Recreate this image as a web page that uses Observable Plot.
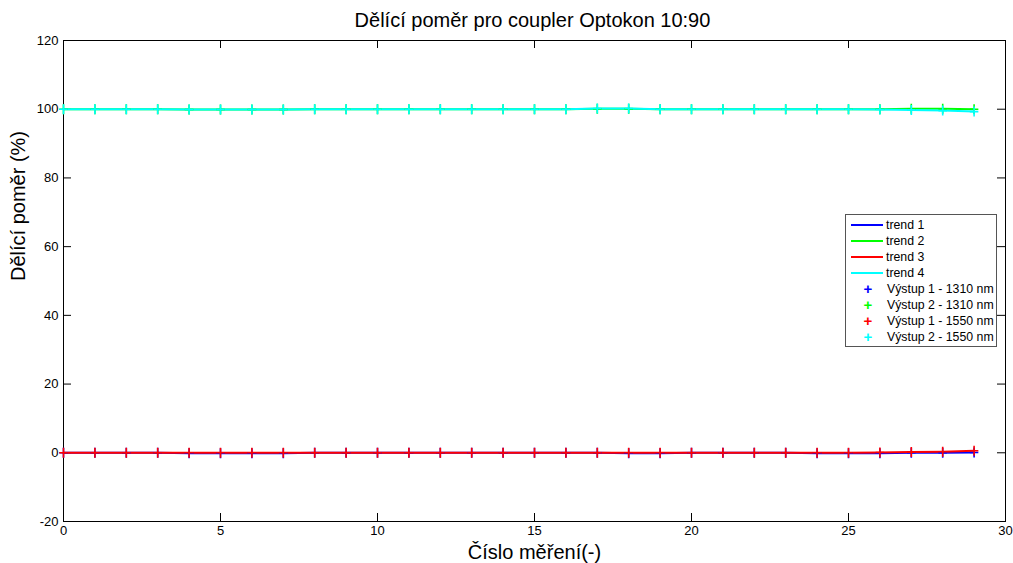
<!DOCTYPE html>
<html>
<head>
<meta charset="utf-8">
<script src="https://cdn.jsdelivr.net/npm/d3@7"></script>
<script src="https://cdn.jsdelivr.net/npm/@observablehq/plot@0.6"></script>
<style>
  html, body { margin: 0; padding: 0; background: #fff; }
  body { font-family: "Liberation Sans", Arial, sans-serif; width: 1013px; height: 563px; position: relative; overflow: hidden; }
  #title { height: 32px; line-height: 40px; text-align: center; font-size: 20px; color: #000; padding-left: 52px; box-sizing: border-box; white-space: nowrap; }
  #chart svg { overflow: visible; display: block; }
  #legend { position: absolute; left: 845px; top: 214px; width: 152px; height: 133px; border: 1px solid #555; background: #fff; box-sizing: border-box; font-size: 12.3px; }
  .row { position: absolute; left: 0; height: 16px; line-height: 16px; white-space: nowrap; }
  .sw { position: absolute; left: 5px; top: 7px; width: 32px; height: 2px; }
  .mk { position: absolute; left: 15px; top: 0; width: 14px; text-align: center; font-size: 15px; font-weight: bold; }
  .lb { position: absolute; left: 40px; top: 0; }
  .lb2 { position: absolute; left: 41px; top: 0; }
</style>
</head>
<body>
<div id="title"></div>
<div id="chart"></div>
<div id="legend"></div>
<script>
// ---- data ----
const measurement = d3.range(0, 30);
const out1_1310 = [0.0,0.0,0.0,0.0,-0.1,-0.1,-0.1,-0.1,0.0,0.0,0.0,0.0,0.0,0.0,0.0,0.0,0.0,0.0,-0.1,-0.1,0.0,0.0,0.0,0.0,-0.1,-0.1,-0.1,0.0,0.0,0.1];
const out2_1310 = [100.0,100.0,100.0,100.0,99.9,99.9,99.9,99.9,100.0,100.0,100.0,100.0,100.0,100.0,100.0,100.0,100.0,100.1,100.1,100.0,100.0,100.0,100.0,100.0,100.0,100.0,100.0,100.1,100.1,100.0];
const out1_1550 = [0.0,0.0,0.0,0.0,0.0,0.0,0.0,0.0,0.0,0.0,0.0,0.0,0.0,0.0,0.0,0.0,0.0,0.0,0.0,0.0,0.0,0.0,0.0,0.0,0.0,0.0,0.1,0.2,0.3,0.6];
const out2_1550 = [100.0,100.0,100.0,100.0,99.9,99.9,99.9,99.9,100.0,100.0,100.0,100.0,100.0,100.0,100.0,100.0,100.0,100.2,100.2,100.0,100.0,100.0,100.0,100.0,100.0,100.0,99.9,99.8,99.6,99.3];
const seriesNames = ["Výstup 1 - 1310 nm", "Výstup 2 - 1310 nm", "Výstup 1 - 1550 nm", "Výstup 2 - 1550 nm"];
const trendNames = ["trend 1", "trend 2", "trend 3", "trend 4"];
const seriesColors = ["#0000ff", "#00ff00", "#ff0000", "#00ffff"];
const xTicks = [0, 5, 10, 15, 20, 25, 30];
const yTicks = [-20, 0, 20, 40, 60, 80, 100, 120];
const titleText = "Dělící poměr pro coupler Optokon 10:90";
const xLabel = "Číslo měření(-)";
const yLabel = "Dělící poměr (%)";

const seriesValues = [out1_1310, out2_1310, out1_1550, out2_1550];
const rows = seriesValues.map((vals, s) => vals.map((v, i) => ({x: measurement[i], y: v, s})));

const W = 1013, H = 531, mL = 63, mR = 8, mT = 8, mB = 42;
const frameH = H - mT - mB, frameW = W - mL - mR;
const tick = 8;

const thinPlus = {
  draw(context, size) {
    const r = Math.sqrt(size / Math.PI);
    context.moveTo(-r * 0.85, 0); context.lineTo(r * 0.85, 0);
    context.moveTo(0, -r); context.lineTo(0, r);
  }
};

const marks = [
  Plot.frame({stroke: "#000", strokeWidth: 1}),
  Plot.ruleX(xTicks, {x: d => d, insetTop: frameH - tick, stroke: "#000"}),
  Plot.ruleX(xTicks, {x: d => d, insetBottom: frameH - tick, stroke: "#000"}),
  Plot.ruleY(yTicks, {y: d => d, insetRight: frameW - tick, stroke: "#000"}),
  Plot.ruleY(yTicks, {y: d => d, insetLeft: frameW - tick, stroke: "#000"}),
  Plot.axisX({ticks: xTicks, tickSize: 0, tickPadding: 4, fontSize: 13, label: null, tickFormat: d => String(d)}),
  Plot.axisY({ticks: yTicks, tickSize: 0, tickPadding: 5, fontSize: 13, label: null, tickFormat: d => String(d)})
];
// trend lines
rows.forEach((r, s) => marks.push(Plot.line(r, {x: "x", y: "y", stroke: seriesColors[s], strokeWidth: 2})));
// markers
rows.forEach((r, s) => marks.push(Plot.dot(r, {x: "x", y: "y", symbol: thinPlus, r: 5, stroke: seriesColors[s], fill: "none", strokeWidth: 1.6})));
// axis labels
marks.push(Plot.text([xLabel], {text: d => d, frameAnchor: "bottom", lineAnchor: "middle", dy: 31, fontSize: 20, fill: "#000"}));
marks.push(Plot.text([yLabel], {text: d => d, frameAnchor: "left", rotate: -90, dx: -45, fontSize: 20, fill: "#000"}));

const chart = Plot.plot({
  width: W, height: H,
  marginLeft: mL, marginRight: mR, marginTop: mT, marginBottom: mB,
  x: {domain: [0, 30], axis: null},
  y: {domain: [-20, 120], axis: null},
  style: {fontFamily: "'Liberation Sans', Arial, sans-serif", color: "#000", background: "#fff"},
  marks
});
document.getElementById("chart").appendChild(chart);
document.getElementById("title").textContent = titleText;

// legend
const leg = document.getElementById("legend");
const entries = [
  ...trendNames.map((n, i) => ({name: n, color: seriesColors[i], kind: "line"})),
  ...seriesNames.map((n, i) => ({name: n, color: seriesColors[i], kind: "mark"}))
];
entries.forEach((e, i) => {
  const row = document.createElement("div");
  row.className = "row";
  row.style.top = (2 + i * 16) + "px";
  row.style.width = "100%";
  if (e.kind === "line") {
    const sw = document.createElement("div");
    sw.className = "sw"; sw.style.background = e.color;
    row.appendChild(sw);
    const lb = document.createElement("span");
    lb.className = "lb"; lb.textContent = e.name;
    row.appendChild(lb);
  } else {
    const mk = document.createElement("span");
    mk.className = "mk"; mk.style.color = e.color; mk.textContent = "+";
    row.appendChild(mk);
    const lb = document.createElement("span");
    lb.className = "lb2"; lb.textContent = e.name;
    row.appendChild(lb);
  }
  leg.appendChild(row);
});
</script>
</body>
</html>
